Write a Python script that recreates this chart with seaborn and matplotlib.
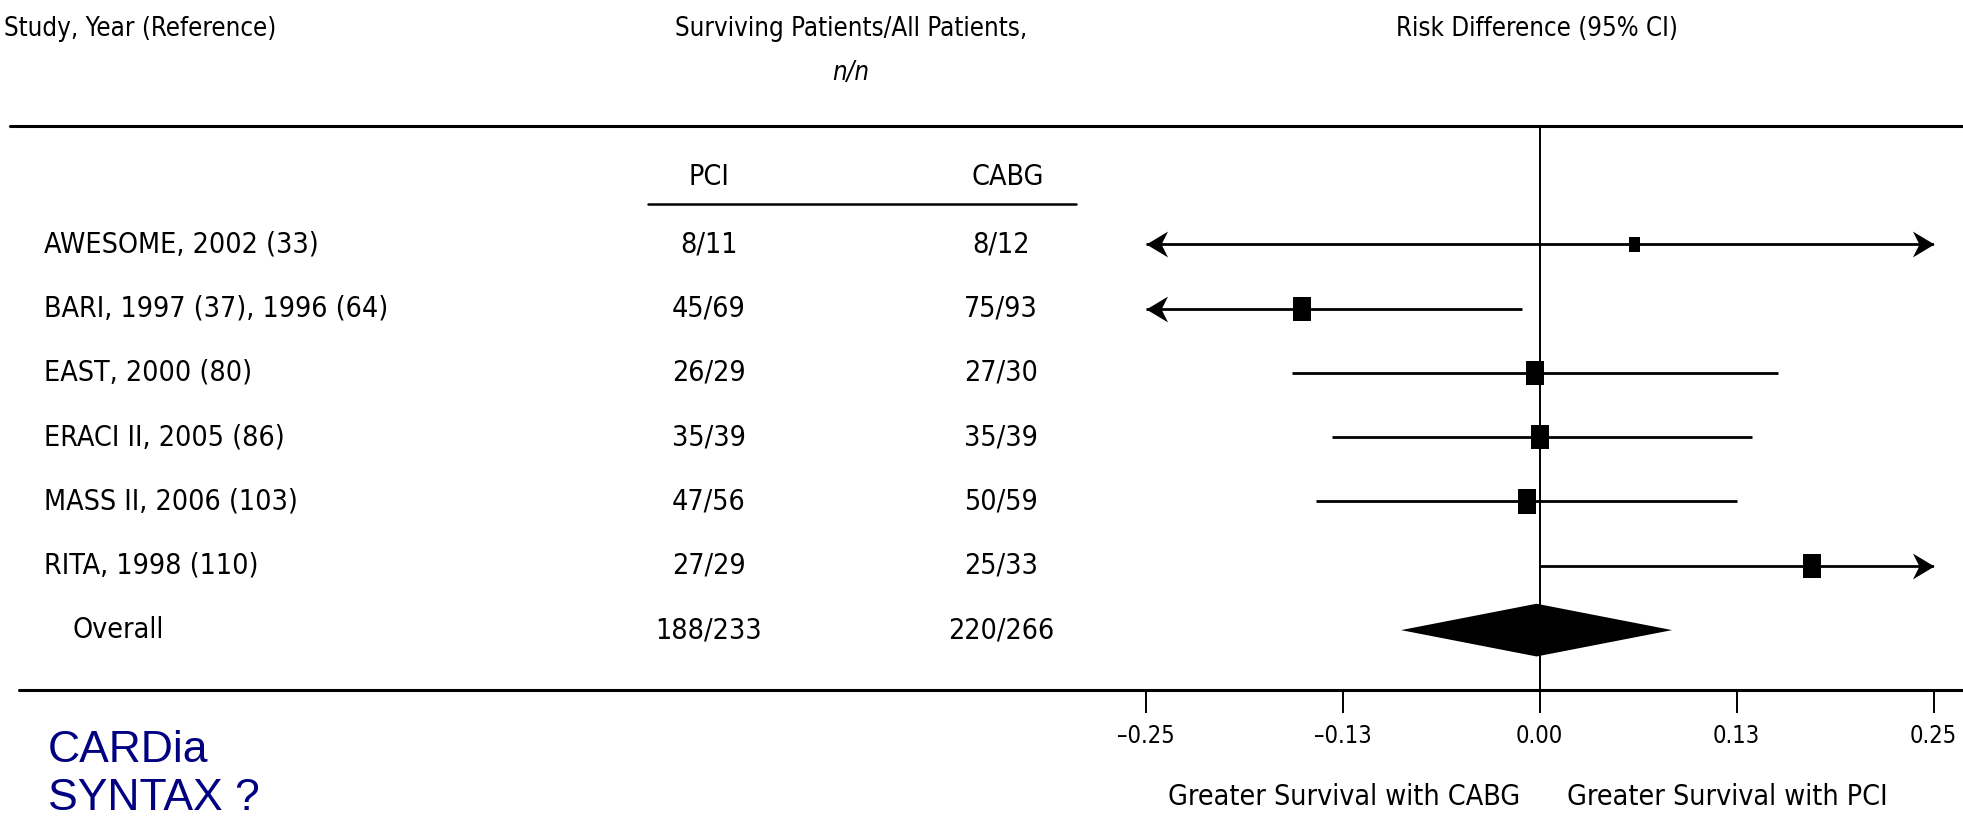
import numpy as np
import pandas as pd
import matplotlib
matplotlib.use("Agg")
import matplotlib.pyplot as plt
import seaborn as sns
from matplotlib import font_manager as fm

# ---------------- data ----------------
studies = ["AWESOME, 2002 (33)", "BARI, 1997 (37), 1996 (64)", "EAST, 2000 (80)",
           "ERACI II, 2005 (86)", "MASS II, 2006 (103)", "RITA, 1998 (110)"]
pci_counts = ["8/11", "45/69", "26/29", "35/39", "47/56", "27/29"]
cabg_counts = ["8/12", "75/93", "27/30", "35/39", "50/59", "25/33"]
risk_diff = [0.060, -0.151, -0.003, 0.000, -0.008, 0.173]
ci_low = [-0.33, -0.29, -0.157, -0.132, -0.142, 0.000]
ci_high = [0.45, -0.011, 0.151, 0.135, 0.125, 0.36]
weight = [0.6, 1.0, 1.0, 1.0, 1.0, 1.0]

overall_label = "Overall"
overall_pci = "188/233"
overall_cabg = "220/266"
overall_rd = -0.002
overall_low = -0.088
overall_high = 0.084

xticks = [-0.25, -0.125, 0.0, 0.125, 0.25]
xticklabels = ["\u20130.25", "\u20130.13", "0.00", "0.13", "0.25"]

# ---------------- fonts / style ----------------
sns.set_theme(style="white")
names = {f.name for f in fm.fontManager.ttflist}
if "Liberation Sans Narrow" in names:
    FONT = ["Liberation Sans Narrow", "DejaVu Sans"]
    STRETCH = "normal"
else:
    FONT = ["DejaVu Sans"]
    STRETCH = "condensed"
plt.rcParams["font.family"] = FONT
plt.rcParams["font.stretch"] = STRETCH
plt.rcParams["text.color"] = "black"
plt.rcParams["xtick.color"] = "black"
plt.rcParams["xtick.labelcolor"] = "black"

W, H = 1963, 818
fig = plt.figure(figsize=(W / 100, H / 100), dpi=100)
fig.patch.set_facecolor("white")

ROW0, STEP = 244.3, 64.3     # pixel position of first row and row spacing
TOP_PX, BOT_PX = 126, 690


def r(py):
    return (py - ROW0) / STEP


y_top, y_bot = r(TOP_PX), r(BOT_PX)
ax_bottom = 1 - BOT_PX / H
ax_height = (BOT_PX - TOP_PX) / H

# table axes (full width, x in pixels)
tab = fig.add_axes([0, ax_bottom, 1, ax_height])
tab.set_xlim(0, W)
tab.set_ylim(y_bot, y_top)
tab.axis("off")
tab.patch.set_alpha(0)

# forest axes
ax = fig.add_axes([1145.7 / W, ax_bottom, 788 / W, ax_height])
ax.set_xlim(-0.25, 0.25)
ax.set_ylim(y_bot, y_top)
ax.patch.set_alpha(0)
for s in ax.spines.values():
    s.set_visible(False)

FS = 20.5
HFS = 18.5
PCI_X, CABG_X = 709, 1001
# headers
tab.text(4, r(29), "Study, Year (Reference)", fontsize=HFS, ha="left", va="center")
tab.text(851, r(29), "Surviving Patients/All Patients,", fontsize=HFS, ha="center", va="center")
tab.text(851, r(73), "n/n", fontsize=HFS, ha="center", va="center", style="italic")
tab.text(1537, r(29), "Risk Difference (95% CI)", fontsize=HFS, ha="center", va="center")
tab.text(PCI_X, r(177), "PCI", fontsize=FS, ha="center", va="center")
tab.text(CABG_X + 7, r(177), "CABG", fontsize=FS, ha="center", va="center")
tab.plot([648, 1076], [r(204), r(204)], color="black", lw=1.8, clip_on=False)

# horizontal rules
tab.plot([10, W], [y_top, y_top], color="black", lw=2.2, clip_on=False)
tab.plot([19, W], [y_bot, y_bot], color="black", lw=2.2, clip_on=False)

rows = np.arange(len(studies))
for i in rows:
    tab.text(44, i, studies[i], fontsize=FS, ha="left", va="center")
    tab.text(PCI_X, i, pci_counts[i], fontsize=FS, ha="center", va="center")
    tab.text(CABG_X, i, cabg_counts[i], fontsize=FS, ha="center", va="center")
ov = len(studies)
tab.text(73, ov, overall_label, fontsize=FS, ha="left", va="center")
tab.text(PCI_X, ov, overall_pci, fontsize=FS, ha="center", va="center")
tab.text(CABG_X, ov, overall_cabg, fontsize=FS, ha="center", va="center")

# zero line
ax.axvline(0, color="black", lw=1.4, zorder=1)

# CI lines with arrows for truncated intervals
left_arrow = [(0, 0), (1, 0.6), (0.7, 0), (1, -0.6), (0, 0)]
right_arrow = [(-x, y) for x, y in left_arrow]
lo_lim, hi_lim = ax.get_xlim()
for i in rows:
    lo = max(ci_low[i], lo_lim)
    hi = min(ci_high[i], hi_lim)
    ax.hlines(i, lo, hi, color="black", lw=2.0, zorder=2)
    if ci_low[i] < lo_lim:
        ax.plot([lo_lim], [i], marker=left_arrow, ms=31, color="black",
                mew=0, clip_on=False, zorder=3)
    if ci_high[i] > hi_lim:
        ax.plot([hi_lim], [i], marker=right_arrow, ms=31, color="black",
                mew=0, clip_on=False, zorder=3)

# point estimates (tall boxes)
df = pd.DataFrame({"rd": risk_diff, "row": rows, "weight": weight})
box = [(-0.37, -0.5), (0.37, -0.5), (0.37, 0.5), (-0.37, 0.5), (-0.37, -0.5)]
sns.scatterplot(data=df, x="rd", y="row", size="weight", sizes=(115, 300),
                marker=box, color="black", linewidth=0, legend=False, ax=ax, zorder=4)

# overall diamond
half_h = 0.41
ax.fill([overall_low, overall_rd, overall_high, overall_rd],
        [ov, ov - half_h, ov, ov + half_h], color="black", lw=0, zorder=4)

ax.set_xlabel("")
ax.set_ylabel("")
ax.set_yticks([])
ax.set_xticks(xticks)
ax.set_xticklabels(xticklabels)
ax.tick_params(axis="x", bottom=True, direction="out", length=16.5, width=1.4,
               pad=8, labelsize=17, color="black", labelcolor="black")

# bottom annotations
ax.text(-0.124, r(797), "Greater Survival with CABG", fontsize=FS, ha="center", va="center")
ax.text(0.119, r(797), "Greater Survival with PCI", fontsize=FS, ha="center", va="center")

# blue notes
fig.text(48 / W, 1 - 751 / H, "CARDia", fontsize=32, color="#000080", ha="left",
         va="center", family="Liberation Sans", stretch="normal")
fig.text(48 / W, 1 - 799 / H, "SYNTAX ?", fontsize=32, color="#000080", ha="left",
         va="center", family="Liberation Sans", stretch="normal")

fig.savefig("out.png", dpi=100, facecolor="white")
